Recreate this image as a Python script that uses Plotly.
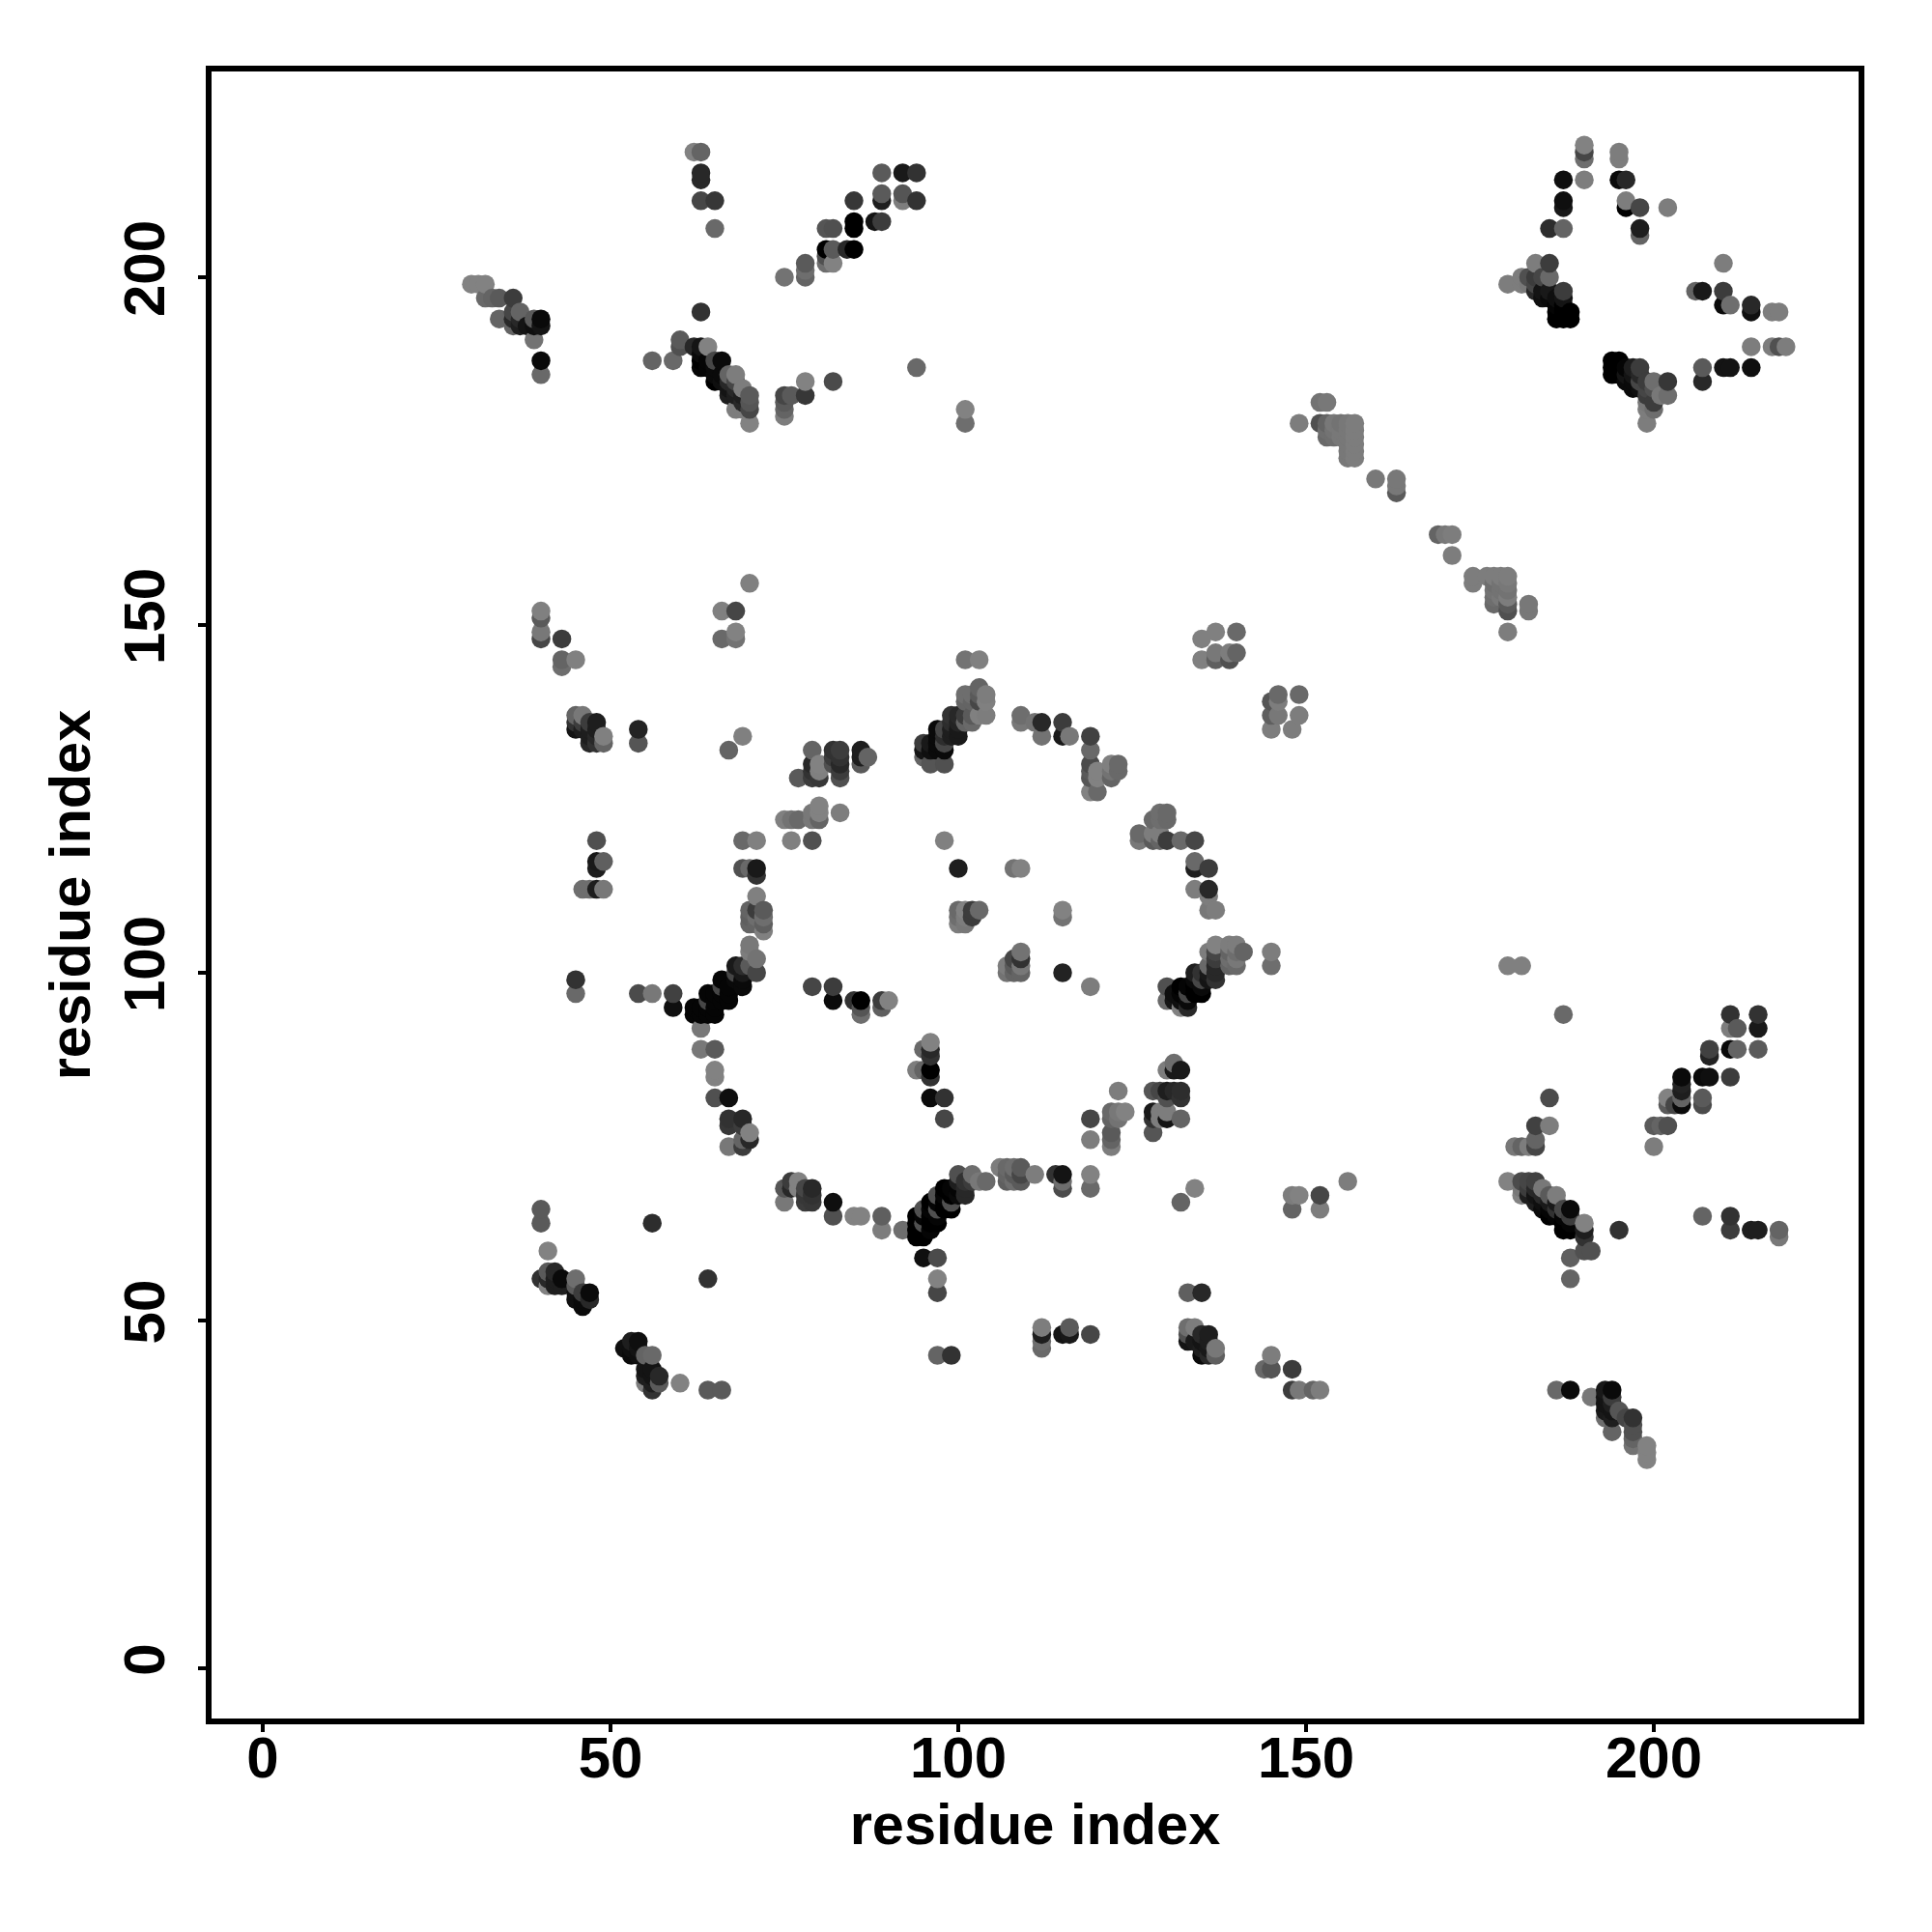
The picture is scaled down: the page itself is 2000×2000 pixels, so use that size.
import plotly.graph_objects as go

# (residue x, residue y, grey level)
upper_left_strand = [(30,199,130),(31,199,130),(32,199,130),(32,197,105),(33,197,100),(34,197,90),(36,197,60),(34,194,100),(36,195,70),(37,195,100),(36,194,40),(36,193,100),(37,193,30),(37,194,40),(39,194,90),(40,194,10),(40,193,20),(39,193,15),(38,193,20),(39,191,115),(40,188,10),(40,186,105)]
upper_mid_anti = [(63,195,50),(56,188,100),(59,188,105),(60,191,90),(60,190,80),(62,190,40),(63,190,20),(64,190,130),(63,189,10),(63,188,0),(63,187,5),(64,187,5),(64,188,5),(65,188,70),(66,188,10),(65,187,10),(65,186,10),(65,185,0),(66,186,10),(66,185,15),(67,186,100),(68,186,125),(67,185,40),(67,184,20),(67,183,30),(68,185,70),(69,184,125),(68,184,40),(68,183,30),(69,183,30),(70,183,90),(70,182,85),(70,181,70),(68,181,125),(69,182,40),(69,181,125),(70,179,130),(75,183,70),(76,183,90),(75,182,90),(75,181,100),(75,180,125),(78,185,130),(78,183,55),(82,185,75),(94,187,105),(101,181,130),(101,179,110)]
upper_mid_parallel = [(62,218,130),(63,218,100),(63,215,40),(63,214,40),(63,211,70),(65,211,55),(65,207,105),(89,215,90),(92,215,25),(94,215,50),(89,212,90),(89,211,30),(92,212,85),(92,211,125),(94,211,50),(85,211,55),(85,208,0),(85,207,0),(88,208,20),(89,208,60),(81,207,85),(82,207,80),(81,204,0),(82,204,90),(84,204,40),(85,204,0),(81,203,80),(81,202,110),(82,202,130),(78,202,90),(78,201,110),(78,200,100),(75,200,115)]
upper_right_peak = [(190,219,130),(190,218,70),(190,217,110),(195,218,125),(195,217,125),(187,214,15),(190,214,125),(195,214,10),(196,214,40),(187,211,15),(187,210,25),(196,211,125),(196,210,0),(198,210,70),(202,210,125),(198,207,30),(198,206,100),(185,207,45),(187,207,100)]
upper_right_left = [(183,202,125),(185,202,60),(181,200,125),(182,200,80),(179,199,125),(181,199,125),(182,199,120),(183,200,60),(184,200,70),(185,200,105),(183,199,70),(183,198,40),(184,198,20),(184,197,15),(185,198,25),(185,197,10),(186,197,15),(186,196,5),(187,198,60),(187,197,20),(187,196,0),(186,195,0),(186,194,0),(187,195,0),(187,194,0),(188,195,0),(188,194,0)]
upper_right_right = [(210,202,125),(206,198,100),(207,198,25),(210,198,60),(210,196,10),(211,196,110),(214,196,40),(214,195,15),(217,195,125),(218,195,125),(214,190,125),(217,190,125),(218,190,80),(219,190,125),(207,187,90),(207,185,40),(210,187,20),(211,187,20),(214,187,15)]
upper_right_low = [(194,188,0),(195,188,0),(194,187,0),(194,186,0),(195,187,0),(195,186,0),(196,187,5),(196,186,20),(196,185,10),(197,187,30),(198,187,60),(197,186,20),(197,185,10),(197,184,10),(198,186,40),(198,185,70),(198,184,15),(199,185,60),(200,185,110),(202,185,55),(199,184,70),(200,184,80),(201,183,120),(202,183,110),(199,182,120),(200,182,60),(199,183,60),(200,181,110),(199,181,125),(199,179,125)]
diagonal_band_top = [(149,179,125),(152,182,115),(153,182,120),(152,179,80),(153,179,100),(154,179,120),(155,179,115),(156,179,120),(157,179,125),(153,178,110),(154,178,115),(155,178,120),(156,178,120),(157,178,125),(153,177,105),(154,177,110),(155,177,120),(156,177,120),(157,177,125),(156,176,120),(157,176,125),(156,175,120),(157,175,125),(156,174,120),(157,174,125),(160,171,120),(163,171,120),(163,170,120),(163,169,90)]
diagonal_band_low = [(169,163,100),(170,163,120),(171,163,125),(171,160,125),(174,157,125),(174,156,125),(176,157,125),(177,157,125),(178,157,125),(179,157,125),(177,156,110),(178,156,115),(179,156,120),(177,155,115),(178,155,115),(179,155,115),(177,154,110),(177,153,105),(178,154,120),(179,154,125),(179,153,90),(179,152,80),(182,153,120),(182,152,120),(179,149,125)]
left_mid = [(40,152,128),(40,151,90),(40,149,120),(40,148,70),(43,148,60),(43,145,100),(45,145,128),(43,144,110),(45,137,100),(46,137,120),(45,136,50),(45,135,20),(46,136,60),(46,135,30),(47,136,60),(48,136,30),(47,135,30),(48,135,30),(47,134,30),(47,133,40),(48,134,40),(48,133,50),(49,134,128),(49,133,100),(54,135,35),(54,133,85),(48,119,80),(48,116,25),(49,116,95),(48,115,30),(46,112,110),(47,112,110),(48,112,30),(49,112,120),(45,99,50),(45,97,105),(54,97,75),(56,97,120),(59,97,65),(59,95,15)]
top_center_a = [(70,156,128),(66,152,128),(68,152,70),(66,148,105),(68,149,130),(68,148,115),(69,134,128),(67,132,100),(79,132,100),(82,132,50),(83,132,60),(86,132,30),(87,131,100),(86,130,90),(86,131,30),(82,131,60),(82,130,80),(83,130,40),(83,131,50),(79,130,40),(80,130,130),(80,129,128),(77,128,90),(79,129,50),(79,128,60),(80,128,55),(83,129,60),(83,128,80),(75,122,128),(76,122,115),(77,122,105),(79,122,120),(80,124,130),(80,123,130),(80,122,100),(79,123,120),(83,123,125),(76,119,128),(79,119,80),(69,119,105),(71,119,128)]
left_ring = [(69,115,80),(70,115,105),(71,115,25),(71,114,50),(71,111,128),(72,109,90),(70,109,100),(71,109,60),(70,108,95),(72,108,110),(70,107,100),(72,107,95),(72,106,128),(71,108,110),(71,107,100),(70,104,120),(70,103,125),(71,102,115),(71,100,70),(70,101,90),(68,101,25),(69,101,45),(68,100,70),(69,100,25),(69,99,10),(69,98,10),(68,99,10),(66,99,5),(66,98,70),(67,98,5),(67,97,5),(67,96,5),(66,97,5),(65,97,5),(64,97,5),(66,96,5),(65,96,5),(64,96,70),(62,95,5),(62,94,5),(63,95,5),(63,94,5),(64,95,5),(64,94,5),(65,95,5),(65,94,5),(63,92,120),(63,89,120),(65,89,90)]
inner_left = [(79,98,70),(82,98,60),(82,96,10),(85,96,50),(86,96,0),(86,95,85),(86,94,110),(89,96,60),(89,95,95),(90,96,130),(96,90,130),(95,89,105),(96,89,40),(96,88,50),(94,86,125),(95,86,100),(96,86,0),(96,85,50),(96,82,10),(98,82,50),(98,79,70)]
top_right_ring = [(98,119,128),(100,115,30),(101,145,115),(103,145,128),(103,141,100),(101,140,110),(102,140,110),(103,140,90),(104,140,125),(101,139,100),(102,139,100),(103,139,70),(104,139,128),(99,137,50),(100,137,40),(101,137,60),(102,137,90),(103,137,128),(104,137,125),(101,136,100),(102,136,105),(99,136,45),(100,136,35),(100,135,25),(99,135,30),(98,135,70),(97,135,10),(97,134,10),(98,134,45),(99,134,30),(100,134,25),(95,133,60),(96,133,25),(97,133,10),(98,133,70),(95,132,20),(96,132,15),(97,132,10),(98,132,10),(96,130,85),(98,130,80),(95,131,100)]
top_right_arc = [(109,137,110),(109,136,120),(111,136,115),(112,136,40),(115,136,60),(112,134,115),(115,134,25),(116,134,120),(119,134,65),(119,132,105),(119,130,75),(119,129,90),(119,128,85),(120,129,130),(120,128,130),(122,130,128),(123,130,105),(123,129,105),(122,129,115),(122,128,100),(119,126,130),(120,126,105),(135,148,128),(137,149,128),(140,149,105),(135,145,128),(137,146,120),(137,145,95),(139,146,125),(139,145,80),(140,146,100),(145,139,85),(146,140,105),(146,139,125),(149,140,105),(145,137,95),(146,137,120),(149,137,125),(145,135,125),(148,135,125)]
right_arc = [(129,123,110),(130,123,105),(128,122,105),(129,122,110),(130,122,105),(126,120,105),(126,119,120),(128,120,125),(128,119,90),(129,120,125),(129,119,100),(130,119,60),(132,119,105),(134,119,70),(134,116,105),(134,115,30),(136,115,60),(134,112,125),(136,112,40),(136,111,125),(136,109,120),(137,109,125)]
center_points = [(108,115,115),(109,115,130),(100,109,105),(101,109,130),(102,109,60),(103,109,105),(100,108,110),(101,108,125),(102,108,60),(100,107,125),(101,107,120),(115,109,130),(115,108,115),(109,103,115),(108,102,70),(109,102,50),(107,101,125),(108,101,90),(109,101,120),(107,100,115),(108,100,100),(109,100,100),(115,100,35),(119,98,125)]
right_diag = [(137,104,130),(139,104,125),(140,104,125),(141,103,100),(136,103,125),(137,103,70),(139,103,100),(140,103,110),(140,102,120),(139,102,110),(139,101,100),(140,101,105),(137,102,60),(137,101,40),(137,100,40),(137,99,50),(134,100,30),(135,100,50),(136,101,105),(136,100,25),(136,99,20),(135,99,70),(134,99,10),(135,98,10),(135,97,0),(134,98,0),(133,98,5),(132,98,0),(130,98,80),(130,96,105),(132,97,5),(132,95,130),(133,95,40),(133,97,70),(133,96,10),(131,97,15),(131,96,20),(132,96,15),(134,97,0),(145,103,125),(145,101,110)]
lower_left_ring = [(65,86,130),(65,85,130),(65,82,80),(67,82,15),(67,79,50),(67,78,55),(69,79,40),(69,78,60),(70,77,130),(70,76,40),(69,76,100),(69,75,60),(67,75,120)]
lower_left_a = [(40,66,90),(40,64,90),(56,64,45),(41,60,130),(64,56,50),(40,56,50),(41,57,90),(42,57,40),(41,56,40),(41,55,130),(42,56,30),(42,55,30),(43,56,10),(43,55,30),(45,56,110),(45,55,90),(46,54,60),(47,54,10),(45,54,15),(45,53,15),(46,53,10),(47,53,40),(46,52,10),(52,46,15),(53,47,30),(54,47,15),(53,46,15),(53,45,10),(54,46,20),(54,45,15),(55,45,100),(56,45,105),(55,43,20),(56,43,20),(55,42,30),(56,42,20),(57,42,40),(57,41,90),(55,41,125),(56,41,30),(56,40,50),(60,41,130),(64,40,90),(66,40,90)]
lower_ring = [(75,69,85),(76,70,60),(76,69,40),(77,70,130),(77,69,130),(75,67,120),(78,69,70),(79,69,40),(78,67,60),(79,67,55),(78,68,55),(79,68,50),(82,67,15),(82,65,80),(85,65,130),(86,65,130),(89,65,95),(89,63,125),(92,63,110),(94,65,0),(94,64,0),(94,63,0),(94,62,0),(95,66,80),(95,65,5),(95,64,80),(95,63,0),(95,62,0),(96,67,0),(96,66,5),(96,65,0),(96,64,0),(96,63,5),(97,68,80),(97,67,5),(97,66,80),(97,65,5),(97,64,0),(98,69,0),(98,68,5),(98,67,0),(98,66,0),(99,69,5),(99,68,0),(99,67,80),(99,66,0),(100,69,5),(100,71,80),(100,70,30),(100,68,10),(101,70,50),(101,69,40),(101,68,40),(102,71,110),(102,70,60),(103,70,120),(95,59,15),(97,59,75),(97,56,130),(97,54,70),(97,45,100),(99,45,50)]
lower_mid = [(104,70,105),(106,72,125),(107,72,105),(108,72,110),(109,72,90),(107,71,100),(108,71,90),(107,70,95),(108,70,110),(109,70,90),(109,71,70),(111,71,125),(114,71,50),(115,71,20),(115,70,110),(115,69,75),(119,71,130),(119,69,105),(123,83,125),(122,80,105),(124,80,130),(123,80,120),(122,79,100),(123,79,115),(119,79,70),(119,76,125),(122,77,90),(122,76,100),(122,75,125),(128,83,85),(129,83,70),(130,83,30),(131,83,40),(132,83,45),(132,82,50),(130,82,80),(131,87,110),(130,86,125),(132,86,25),(131,86,25),(128,80,25),(128,79,50),(130,79,20),(129,80,125),(130,80,125),(129,79,125),(132,79,100),(128,77,85),(134,69,130),(132,67,100),(148,68,125),(149,68,130),(148,66,100),(152,68,70),(152,66,125),(156,70,125)]
lower_mid_b = [(133,54,95),(135,54,40),(112,49,125),(112,48,30),(112,47,110),(112,46,105),(115,48,20),(116,49,90),(116,48,25),(119,48,70),(133,49,110),(134,49,125),(133,48,80),(133,47,20),(134,47,25),(135,48,40),(136,48,30),(135,47,20),(135,46,30),(135,45,10),(136,47,30),(136,46,25),(136,45,40),(137,46,120),(137,45,95),(145,45,125),(144,43,105),(145,43,85),(148,43,60),(148,40,60),(149,40,120),(151,40,100),(152,40,125)]
right_lower_a = [(179,101,128),(181,101,128),(187,94,105),(185,82,75),(183,78,65),(185,78,125),(183,76,100),(180,75,120),(181,75,100),(182,75,125),(183,75,70),(179,70,130),(181,70,75),(182,70,70),(183,70,65),(181,68,130),(181,69,120),(182,69,60),(183,69,40),(182,68,30),(183,68,20),(184,69,120),(184,68,40),(185,68,90),(186,68,125),(183,67,30),(184,67,15),(184,66,10),(185,66,5),(185,65,0),(185,67,25),(186,67,25),(186,66,50),(186,65,5),(187,66,70),(187,65,5),(187,64,0),(188,66,10),(188,65,60),(188,64,5),(187,63,0),(188,63,0),(190,64,130),(190,63,30),(190,62,50),(190,60,80),(191,60,80),(188,59,95),(188,56,100),(195,63,50)]
right_upper_b = [(211,94,50),(215,94,50),(211,92,125),(212,92,90),(215,92,25),(211,89,10),(212,89,100),(215,89,90),(208,89,65),(208,88,35),(204,85,10),(204,84,35),(207,85,10),(208,85,15),(211,85,60),(202,82,130),(204,83,30),(204,82,100),(207,82,90),(207,81,75),(202,81,90),(203,81,70),(204,81,10),(200,78,90),(201,78,100),(202,78,80),(200,75,125)]
right_lower_c = [(207,65,100),(211,65,50),(211,63,60),(214,63,30),(215,63,30),(218,63,100),(218,62,120)]
bottom_right = [(186,40,105),(188,40,10),(191,39,120),(193,40,25),(194,40,10),(193,39,20),(194,39,60),(193,38,20),(193,37,25),(194,38,30),(194,37,20),(193,36,110),(194,36,30),(195,37,85),(196,36,70),(197,36,50),(194,34,100),(197,35,80),(197,34,80),(197,33,100),(197,32,115),(199,32,130),(199,31,130),(199,30,130)]

clusters = [upper_left_strand, upper_mid_anti, upper_mid_parallel, upper_right_peak, upper_right_left,
            upper_right_right, upper_right_low, diagonal_band_top, diagonal_band_low, left_mid, top_center_a,
            left_ring, inner_left, top_right_ring, top_right_arc, right_arc, center_points, right_diag,
            lower_left_ring, lower_left_a, lower_ring, lower_mid, lower_mid_b, right_lower_a, right_upper_b,
            right_lower_c, bottom_right]

tick_values = [0, 50, 100, 150, 200]
axis_title = "residue index"

points = sorted({(p[0], p[1]): p for c in clusters for p in c}.values(), key=lambda p: (p[0], p[1]))
xs = [p[0] for p in points]
ys = [p[1] for p in points]
colors = [f"rgb({p[2]},{p[2]},{p[2]})" for p in points]

font = "Liberation Sans"
title_font = dict(family=font, size=59.5, weight="bold", color="black")
fig = go.Figure(go.Scatter(x=xs, y=ys, mode="markers",
                           marker=dict(size=19.5, color=colors, line=dict(width=0)),
                           showlegend=False))
axis = dict(tickmode="array", tickvals=tick_values, ticktext=[str(v) for v in tick_values],
            ticks="outside", ticklen=8, tickwidth=4, tickcolor="black",
            showgrid=False, zeroline=False, showline=True, linecolor="black", linewidth=6, mirror=True,
            tickfont=dict(family=font, size=60, color="black", weight="bold"),
            automargin=False)
fig.update_layout(
    width=2000, height=2000, autosize=False,
    margin=dict(l=219, r=76, t=74, b=221),
    paper_bgcolor="white", plot_bgcolor="white",
    font=dict(family=font, color="black"),
    xaxis=dict(axis, range=[-7.36, 229.44], ticklabelstandoff=-25,
               title=dict(text=axis_title, standoff=17, font=title_font)),
    yaxis=dict(axis, range=[-7.22, 229.58], tickangle=-90, ticklabelstandoff=11,
               title=dict(text=axis_title, standoff=5, font=title_font)),
)
fig.write_html("out.html", config={"displayModeBar": False},
               post_script="document.body.style.margin='0';window.dispatchEvent(new Event('resize'));")
